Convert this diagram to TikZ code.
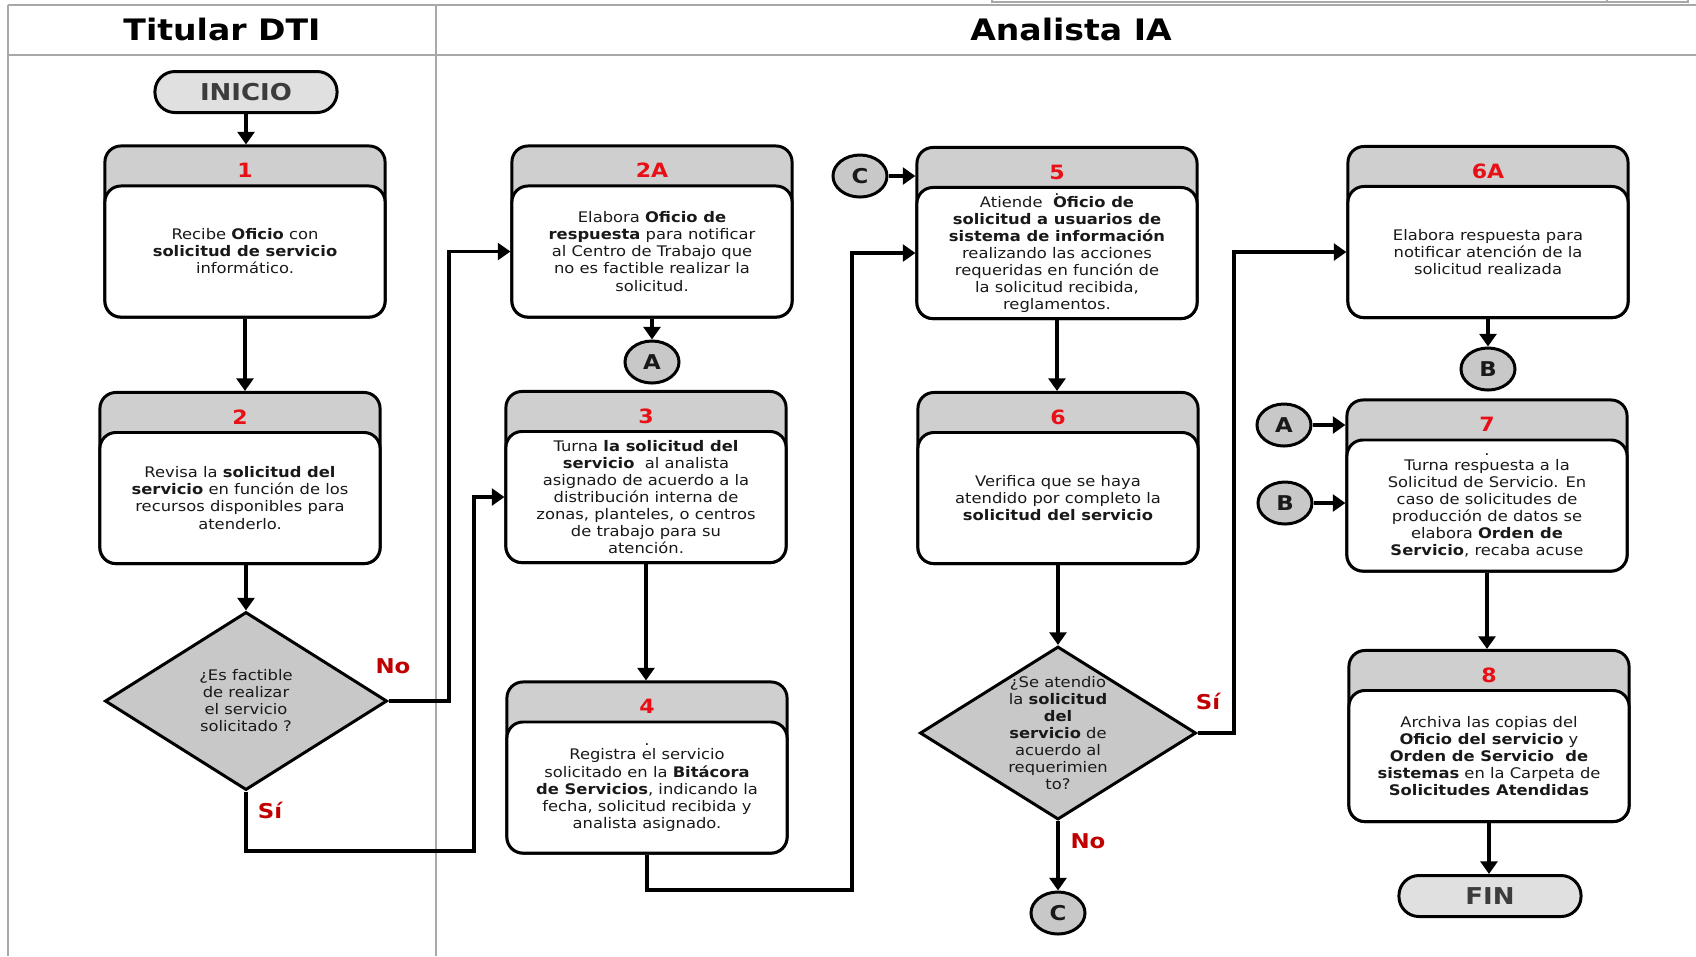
\documentclass[tikz,border=0pt]{standalone}
\usepackage{fontspec}
\setmainfont{DejaVu Sans}[FakeStretch=1.12]
\usetikzlibrary{shapes.geometric,arrows.meta}

\definecolor{hdrgray}{RGB}{207,207,207}
\definecolor{dgray}{RGB}{200,200,200}
\definecolor{termgray}{RGB}{224,224,224}
\definecolor{termtext}{RGB}{60,60,60}
\definecolor{numred}{RGB}{232,16,22}
\definecolor{lblred}{RGB}{192,0,0}
\definecolor{framegray}{RGB}{168,168,168}
\definecolor{ink}{RGB}{25,25,25}

\newcommand{\bodyfont}{\fontsize{4.15pt}{4.84pt}\selectfont}

\tikzset{
  stepbox/.style={draw, line width=0.85pt, fill=hdrgray, rounded corners=0.16cm,
    minimum width=2.8cm, minimum height=1.71cm, inner sep=0pt},
  stepbody/.style={draw, line width=0.85pt, fill=white, rounded corners=0.16cm,
    minimum width=2.8cm, minimum height=1.31cm, inner sep=0pt, anchor=south},
  steptext/.style={align=center, font=\bodyfont, text=ink, inner sep=0pt},
  stepnum/.style={font=\fontsize{5.6pt}{6pt}\selectfont\bfseries, text=numred, inner sep=0pt},
  decision/.style={diamond, draw, line width=0.85pt, fill=dgray, inner sep=0pt},
  term/.style={draw, line width=0.85pt, fill=termgray, rounded corners=0.2cm,
    minimum width=1.82cm, minimum height=0.41cm, inner sep=0pt,
    font=\fontsize{6.6pt}{7pt}\selectfont\bfseries, text=termtext},
  joint/.style={ellipse, draw, line width=0.85pt, fill=dgray, minimum width=0.54cm,
    minimum height=0.42cm, inner sep=0pt, font=\fontsize{5.8pt}{6pt}\selectfont\bfseries, text=ink},
  conn/.style={line width=1.05pt, -{Triangle[length=3.6pt,width=4.8pt]}},
  answer/.style={font=\fontsize{5.8pt}{6pt}\selectfont\bfseries, text=lblred, inner sep=0pt},
  lanehead/.style={font=\fontsize{8.4pt}{9pt}\selectfont\bfseries, inner sep=0pt},
  lane/.style={draw=framegray, line width=0.55pt},
}

% a process step: grey title band with its number, white body with the text
\newcommand{\stepnode}[4]{%
  \node[stepbox] (#1) at (#2) {};
  \node[stepbody] (#1t) at (#1.south) {};
  \path (#1.north) -- (#1t.north) node[midway, stepnum, yshift=-1.7pt] (#1n) {#3};
  \node[steptext] (#1x) at (#1t.center) {#4};
}

\begin{document}
\begin{tikzpicture}[x=0.01cm, y=-0.01cm]
  \useasboundingbox (0,0) rectangle (1696,956);
  \fill[white] (0,0) rectangle (1696,956);

  % swimlane frame
  \draw[lane] (992,-10) rectangle (1688,2);
  \draw[lane] (1607,-10) -- (1607,2);
  \draw[lane] (8,5) -- (1696,5);
  \draw[lane] (8,55) -- (1696,55);
  \draw[lane] (8,5) -- (8,956);
  \draw[lane] (436,5) -- (436,956);
  \node[lanehead] (lane1) at (222,29) {Titular DTI};
  \node[lanehead] (lane2) at (1071,29) {Analista IA};

  % terminators
  \node[term] (ini) at (246,92) {INICIO};
  \node[term] (fin) at (1490,896) {FIN};

  % process steps
  \stepnode{b1}{245,231.5}{1}{Recibe \textbf{Oficio} con\\\textbf{solicitud de servicio}\\informático.}
  \stepnode{b2}{240,478}{2}{Revisa la \textbf{solicitud del}\\\textbf{servicio} en función de los\\recursos disponibles para\\atenderlo.}
  \stepnode{b2a}{652,231.5}{2A}{Elabora \textbf{Oficio de}\\\textbf{respuesta} para notificar\\al Centro de Trabajo que\\no es factible realizar la\\solicitud.}
  \stepnode{b3}{646,477}{3}{Turna \textbf{la solicitud del}\\\textbf{servicio}\ \ al analista\\asignado de acuerdo a la\\distribución interna de\\zonas, planteles, o centros\\de trabajo para su\\atención.}
  \stepnode{b4}{647,767.5}{4}{.\\[-0.8pt]Registra el servicio\\solicitado en la \textbf{Bitácora}\\\textbf{de Servicios}, indicando la\\fecha, solicitud recibida y\\analista asignado.}
  \stepnode{b5}{1057,233}{5}{.\\[-1.3pt]Atiende\ \ \textbf{Oficio de}\\\textbf{solicitud a usuarios de}\\\textbf{sistema de información}\\realizando las acciones\\requeridas en función de\\la solicitud recibida,\\reglamentos.}
  \stepnode{b6}{1058,478}{6}{Verifica que se haya\\atendido por completo la\\\textbf{solicitud del servicio}}
  \stepnode{b6a}{1488,232}{6A}{Elabora respuesta para\\notificar atención de la\\solicitud realizada}
  \stepnode{b7}{1487,485.5}{7}{.\\[-0.8pt]Turna respuesta a la\\Solicitud de Servicio. En\\caso de solicitudes de\\producción de datos se\\elabora \textbf{Orden de}\\\textbf{Servicio}, recaba acuse}
  \stepnode{b8}{1489,736}{8}{Archiva las copias del\\\textbf{Oficio del servicio} y\\\textbf{Orden de Servicio\ \ de}\\\textbf{sistemas} en la Carpeta de\\\textbf{Solicitudes Atendidas}}

  % decisions
  \node[decision, minimum width=2.82cm, minimum height=1.78cm] (d1) at (246,701) {};
  \node[steptext] (d1x) at (d1.center) {¿Es factible\\de realizar\\el servicio\\solicitado ?};
  \node[decision, minimum width=2.76cm, minimum height=1.73cm] (d2) at (1058,733) {};
  \node[steptext] (d2x) at (d2.center) {¿Se atendio\\la \textbf{solicitud}\\\textbf{del}\\\textbf{servicio} de\\acuerdo al\\requerimien\\to?};

  % off-page connectors
  \node[joint] (ja1) at (652,362) {A};
  \node[joint] (jc1) at (860,176) {C};
  \node[joint] (jc2) at (1058,913) {C};
  \node[joint] (jb1) at (1488,369) {B};
  \node[joint] (ja2) at (1284,425) {A};
  \node[joint] (jb2) at (1285,503) {B};

  % bends of the routed connectors
  \coordinate (k1) at (449,701);
  \coordinate (k2) at (474,851);
  \coordinate (k3) at (852,890);
  \coordinate (k4) at (1234,733);

  % flow
  \draw[conn] (ini.south) -- (ini.south |- b1.north);
  \draw[conn] (b1.south) -- (b1.south |- b2.north);
  \draw[conn] (d1.north |- b2t.south) -- (d1.north);
  \draw[conn] (d1.east) -- (k1) |- (b2at.west);
  \draw[conn] (d1.south) |- (k2) |- (b3t.west);
  \draw[conn] (b2at.south) -- (ja1.north);
  \draw[conn] (b3t.south) -- (b3t.south |- b4.north);
  \draw[conn] (b4t.south) |- (k3) |- (b5t.west);
  \draw[conn] (jc1.east) -- (jc1.east -| b5.west);
  \draw[conn] (b5t.south) -- (b5t.south |- b6.north);
  \draw[conn] (b6t.south) -- (d2.north);
  \draw[conn] (d2.east) -- (k4) |- (b6at.west);
  \draw[conn] (d2.south) -- (jc2.north);
  \draw[conn] (b6at.south) -- (jb1.north);
  \draw[conn] (ja2.east) -- (ja2.east -| b7.west);
  \draw[conn] (jb2.east) -- (jb2.east -| b7.west);
  \draw[conn] (b7t.south) -- (b7t.south |- b8.north);
  \draw[conn] (b8t.south) -- (b8t.south |- fin.north);

  % answers on the decision branches
  \node[answer] (no1) at (393,666) {No};
  \node[answer] (si1) at (270,810) {Sí};
  \node[answer] (si2) at (1208,701) {Sí};
  \node[answer] (no2) at (1088,841) {No};
\end{tikzpicture}
\end{document}
